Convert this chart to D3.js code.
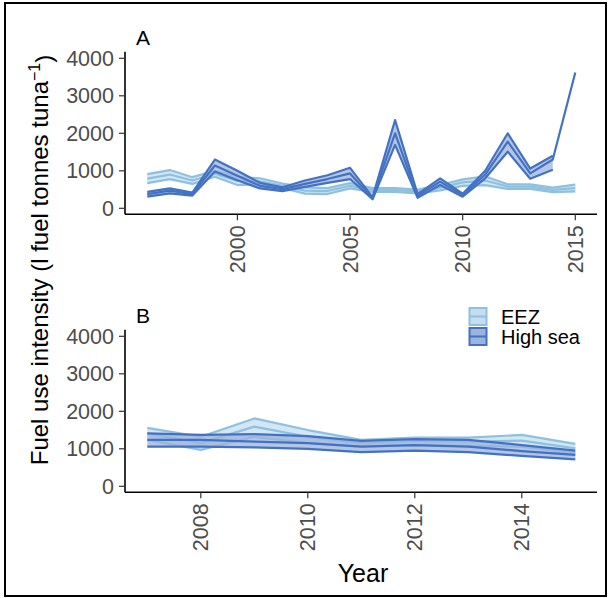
<!DOCTYPE html>
<html>
<head>
<meta charset="utf-8">
<script src="https://cdn.jsdelivr.net/npm/d3@7"></script>
<style>
  body { margin: 0; background: #fff; }
  svg { font-family: "Liberation Sans", Arial, sans-serif; }
</style>
</head>
<body>
<div id="chart"></div>
<script>
// panel A: 1996-2015
const yearsA = [1996, 1997, 1998, 1999, 2000, 2001, 2002, 2003, 2004, 2005, 2006, 2007, 2008, 2009, 2010, 2011, 2012, 2013, 2014, 2015];
const eezMeanA = [790, 900, 740, 920, 730, 720, 600, 470, 460, 600, 490, 490, 450, 550, 690, 740, 580, 580, 490, 540];
const eezHiA   = [910, 1020, 830, 1000, 840, 800, 660, 560, 540, 670, 540, 540, 500, 620, 770, 850, 640, 640, 550, 630];
const eezLoA   = [670, 780, 650, 840, 620, 640, 540, 390, 380, 530, 440, 440, 400, 480, 600, 620, 520, 520, 430, 450];
const highMeanA = [380, 470, 380, 1140, 870, 600, 510, 650, 780, 930, 270, 2000, 330, 710, 350, 900, 1780, 930, 1300, 3620];
const highHiA   = [440, 530, 420, 1300, 1000, 680, 560, 740, 880, 1080, 300, 2350, 380, 800, 390, 1000, 2000, 1060, 1400, null];
const highLoA   = [310, 400, 340, 980, 750, 530, 460, 570, 680, 780, 240, 1690, 280, 620, 310, 800, 1510, 790, 1030, null];

// panel B: 2007-2015
const yearsB = [2007, 2008, 2009, 2010, 2011, 2012, 2013, 2014, 2015];
const eezMeanB = [1410, 1150, 1590, 1320, 1150, 1210, 1190, 1220, 1010];
const eezHiB   = [1560, 1320, 1810, 1500, 1240, 1300, 1300, 1370, 1130];
const eezLoB   = [1240, 970, 1320, 1150, 1060, 1100, 1080, 1060, 880];
const highMeanB = [1240, 1240, 1190, 1150, 1060, 1100, 1060, 940, 840];
const highHiB   = [1410, 1370, 1390, 1340, 1210, 1260, 1240, 1100, 950];
const highLoB   = [1060, 1060, 1040, 1000, 910, 950, 910, 810, 720];

const yTicks = [0, 1000, 2000, 3000, 4000];
const xTicksA = [2000, 2005, 2010, 2015];
const xTicksB = [2008, 2010, 2012, 2014];
const seriesNames = ["EEZ", "High sea"];

const colors = {
  "EEZ": { line: "#8ec0e0", fill: "#c4def0" },
  "High sea": { line: "#4372c2", fill: "#9cb3dc" }
};

const W = 611, H = 598;
const svg = d3.select("#chart").append("svg").attr("width", W).attr("height", H);

// outer frame
svg.append("rect")
  .attr("x", 5).attr("y", 3).attr("width", 601).attr("height", 593)
  .attr("fill", "none").attr("stroke", "#000").attr("stroke-width", 2);

const left = 125, right = 597;
const tickFont = "21.5px";

function drawPanel(cfg) {
  const g = svg.append("g");
  const x = d3.scaleLinear()
    .domain([cfg.years[0], cfg.years[cfg.years.length - 1]])
    .range([147.3, 575.3]);
  const y = d3.scaleLinear().domain([0, 4000]).range([cfg.y0, cfg.y0 - 150]);
  const top = cfg.y0 - 156.6, bottom = cfg.y0 + 6;

  const series = [
    { name: "EEZ", mean: cfg.eezMean, hi: cfg.eezHi, lo: cfg.eezLo },
    { name: "High sea", mean: cfg.highMean, hi: cfg.highHi, lo: cfg.highLo }
  ];

  series.forEach(s => {
    const rows = cfg.years.map((yr, i) => ({ yr, mean: s.mean[i], hi: s.hi[i], lo: s.lo[i] }));
    const band = rows.filter(d => d.hi != null && d.lo != null);
    g.append("path")
      .datum(band)
      .attr("fill", colors[s.name].fill)
      .attr("fill-opacity", 0.75)
      .attr("d", d3.area().x(d => x(d.yr)).y0(d => y(d.lo)).y1(d => y(d.hi)));
    const line = d3.line().x(d => x(d.yr));
    ["hi", "lo"].forEach(k => {
      g.append("path")
        .datum(band)
        .attr("fill", "none")
        .attr("stroke", colors[s.name].line)
        .attr("stroke-width", 2.2)
        .attr("stroke-linejoin", "round")
        .attr("d", line.y(d => y(d[k])));
    });
    g.append("path")
      .datum(rows)
      .attr("fill", "none")
      .attr("stroke", colors[s.name].line)
      .attr("stroke-width", 2.2)
      .attr("stroke-linejoin", "round")
      .attr("d", d3.line().x(d => x(d.yr)).y(d => y(d.mean)));
  });

  // axes
  g.append("line").attr("x1", left).attr("x2", left).attr("y1", top).attr("y2", bottom)
    .attr("stroke", "#000").attr("stroke-width", 1.6);
  g.append("line").attr("x1", left).attr("x2", right).attr("y1", bottom).attr("y2", bottom)
    .attr("stroke", "#000").attr("stroke-width", 1.6);

  yTicks.forEach(t => {
    g.append("line").attr("x1", left - 6).attr("x2", left).attr("y1", y(t)).attr("y2", y(t))
      .attr("stroke", "#333").attr("stroke-width", 1.2);
    g.append("text")
      .attr("x", left - 11).attr("y", y(t)).attr("dy", "0.35em")
      .attr("text-anchor", "end").attr("fill", "#4d4d4d")
      .style("font-size", tickFont)
      .text(t);
  });

  cfg.xTicks.forEach(t => {
    g.append("line").attr("x1", x(t)).attr("x2", x(t)).attr("y1", bottom).attr("y2", bottom + 6)
      .attr("stroke", "#333").attr("stroke-width", 1.2);
    g.append("text")
      .attr("transform", `translate(${x(t)},${bottom + 11}) rotate(-90)`)
      .attr("dy", "0.35em")
      .attr("text-anchor", "end").attr("fill", "#4d4d4d")
      .style("font-size", tickFont)
      .text(t);
  });

  g.append("text")
    .attr("x", 136).attr("y", cfg.y0 - 163)
    .style("font-size", "21px")
    .text(cfg.label);
}

drawPanel({ years: yearsA, y0: 208.3, label: "A", xTicks: xTicksA,
  eezMean: eezMeanA, eezHi: eezHiA, eezLo: eezLoA,
  highMean: highMeanA, highHi: highHiA, highLo: highLoA });

drawPanel({ years: yearsB, y0: 486.3, label: "B", xTicks: xTicksB,
  eezMean: eezMeanB, eezHi: eezHiB, eezLo: eezLoB,
  highMean: highMeanB, highHi: highHiB, highLo: highLoB });

// legend
const legend = svg.append("g");
seriesNames.forEach((name, i) => {
  const ky = 308 + i * 20;
  legend.append("rect")
    .attr("x", 469.5).attr("y", ky).attr("width", 17).attr("height", 17)
    .attr("fill", colors[name].fill).attr("stroke", colors[name].line).attr("stroke-width", 2);
  legend.append("line")
    .attr("x1", 469.5).attr("x2", 486.5).attr("y1", ky + 8.5).attr("y2", ky + 8.5)
    .attr("stroke", colors[name].line).attr("stroke-width", 2);
  legend.append("text")
    .attr("x", 501).attr("y", ky + 8.5).attr("dy", "0.35em")
    .style("font-size", "20px")
    .text(name);
});

// axis titles
svg.append("text")
  .attr("x", 363).attr("y", 582)
  .attr("text-anchor", "middle")
  .style("font-size", "25px")
  .text("Year");

const yt = svg.append("text")
  .attr("transform", "translate(48,260) rotate(-90)")
  .attr("text-anchor", "middle")
  .style("font-size", "24px");
yt.append("tspan").text("Fuel use intensity (l fuel tonnes tuna");
yt.append("tspan").attr("dy", "-0.5em").style("font-size", "16px").text("\u22121");
yt.append("tspan").attr("dy", "0.5em").text(")");
</script>
</body>
</html>
